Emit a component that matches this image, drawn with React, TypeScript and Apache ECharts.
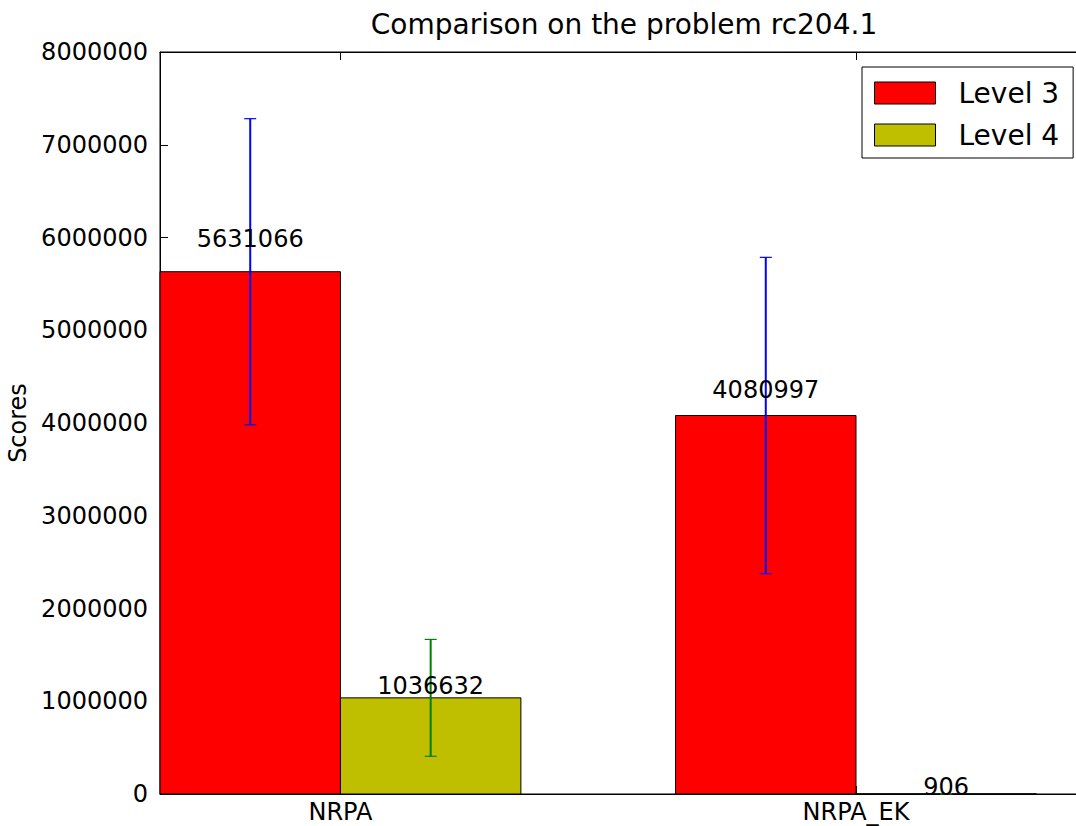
import React, { useEffect, useRef } from "react";
import * as echarts from "echarts";

const categories = ["NRPA", "NRPA_EK"];
const seriesNames = ["Level 3", "Level 4"];
const level3 = [5631066, 4080997];
const level4 = [1036632, 906];
const level3Err = [1650000, 1705000];
const level4Err = [630000, 500];
const seriesColors = ["#ff0000", "#bfbf00"];
const errColors = ["#0000ff", "#008000"];
const yTickStep = 1000000;
const yMax = 8000000;
const barWidthUnits = 0.35;
const xMax = 1.8;
const title = "Comparison on the problem rc204.1";

const FONT = "DejaVu Sans";

export default function App() {
  const ref = useRef<HTMLDivElement>(null);
  useEffect(() => {
    if (!ref.current) return;
    const chart = echarts.init(ref.current, null, { renderer: "svg" });
    const W = barWidthUnits;
    const valuesList = [level3, level4];
    const errList = [level3Err, level4Err];

    const barSeries = seriesNames.map((name, k) => ({
      type: "custom",
      name,
      xAxisIndex: 0,
      yAxisIndex: 0,
      itemStyle: { color: seriesColors[k], borderColor: "#000", borderWidth: 1 },
      data: categories.map((_, i) => [i + k * W, valuesList[k][i]]),
      renderItem: (params: any, api: any) => {
        const x = api.value(0);
        const v = api.value(1);
        const p0 = api.coord([x, v]);
        const p1 = api.coord([x + W, 0]);
        return {
          type: "rect",
          shape: { x: p0[0], y: p0[1], width: p1[0] - p0[0], height: p1[1] - p0[1] },
          style: { fill: seriesColors[k], stroke: "#000", lineWidth: 1 },
        };
      },
      z: 2,
    }));

    const errSeries = seriesNames.map((name, k) => ({
      type: "custom",
      name: name + " err",
      xAxisIndex: 0,
      yAxisIndex: 0,
      data: categories.map((_, i) => [i + k * W + W / 2, valuesList[k][i], errList[k][i]]),
      renderItem: (params: any, api: any) => {
        const x = api.value(0);
        const v = api.value(1);
        const e = api.value(2);
        const top = api.coord([x, v + e]);
        const bot = api.coord([x, v - e]);
        const cap = 6;
        const st = { stroke: errColors[k], lineWidth: 2 };
        const cs = { stroke: errColors[k], lineWidth: 1.2 };
        return {
          type: "group",
          children: [
            { type: "line", shape: { x1: top[0], y1: top[1], x2: bot[0], y2: bot[1] }, style: st },
            { type: "line", shape: { x1: top[0] - cap, y1: top[1], x2: top[0] + cap, y2: top[1] }, style: cs },
            { type: "line", shape: { x1: bot[0] - cap, y1: bot[1], x2: bot[0] + cap, y2: bot[1] }, style: cs },
          ],
        };
      },
      z: 3,
    }));

    const labelSeries = seriesNames.map((name, k) => ({
      type: "custom",
      name: name + " label",
      xAxisIndex: 0,
      yAxisIndex: 0,
      data: categories.map((_, i) => [i + k * W + W / 2, valuesList[k][i]]),
      renderItem: (params: any, api: any) => {
        const x = api.value(0);
        const v = api.value(1);
        const p = api.coord([x, 1.05 * v]);
        return {
          type: "text",
          x: p[0],
          y: p[1] + 5,
          style: {
            text: String(v),
            align: "center",
            verticalAlign: "bottom",
            fontFamily: FONT,
            fontSize: 24,
            fill: "#000",
          },
        };
      },
      z: 4,
    }));

    const tickPositions = categories.map((_, i) => i + W);

    chart.setOption({
      animation: false,
      backgroundColor: "#fff",
      graphic: [
        {
          type: "text",
          x: 624,
          y: 24,
          style: {
            text: title,
            align: "center",
            verticalAlign: "middle",
            fontFamily: FONT,
            fontSize: 28,
            fill: "#000",
          },
        },
      ],
      legend: {
        data: seriesNames.map((n, k) => ({
          name: n,
          itemStyle: { color: seriesColors[k], borderColor: "#000", borderWidth: 1 },
        })),
        orient: "vertical",
        left: 862,
        top: 67,
        icon: "rect",
        itemWidth: 61,
        itemHeight: 22,
        itemGap: 14,
        padding: [12, 14, 9, 12],
        borderColor: "#000",
        borderWidth: 1,
        borderRadius: 0,
        backgroundColor: "#fff",
        selectedMode: false,
        textStyle: { fontFamily: FONT, fontSize: 28, color: "#000", padding: [0, 0, 0, 18] },
      },
      grid: {
        left: 160,
        top: 52,
        right: -12,
        bottom: 32,
        containLabel: false,
        outerBoundsMode: "none",
        show: true,
        borderColor: "#000",
        borderWidth: 1,
        backgroundColor: "transparent",
      },
      xAxis: [
        {
          type: "value",
          position: "bottom",
          min: 0,
          max: xMax,
          axisLine: { show: true, lineStyle: { color: "#000", width: 1 } },
          axisTick: { show: true, inside: true, length: 8, customValues: tickPositions, lineStyle: { color: "#000" } },
          axisLabel: {
            show: true,
            customValues: tickPositions,
            formatter: (v: number) => categories[Math.round(v - W)] ?? "",
            fontFamily: FONT,
            fontSize: 24,
            color: "#000",
            margin: 6,
          },
          splitLine: { show: false },
        },
        {
          type: "value",
          position: "top",
          min: 0,
          max: xMax,
          axisLine: { show: true, lineStyle: { color: "#000", width: 1 } },
          axisTick: { show: true, inside: true, length: 8, customValues: tickPositions, lineStyle: { color: "#000" } },
          axisLabel: { show: false },
          splitLine: { show: false },
        },
      ],
      yAxis: [
        {
          type: "value",
          min: 0,
          max: yMax,
          interval: yTickStep,
          name: "Scores",
          nameLocation: "middle",
          nameGap: 115,
          nameTextStyle: { fontFamily: FONT, fontSize: 24, color: "#000" },
          axisLine: { show: true, lineStyle: { color: "#000", width: 1 } },
          axisTick: { show: true, inside: true, length: 8, lineStyle: { color: "#000" } },
          axisLabel: {
            fontFamily: FONT,
            fontSize: 24,
            color: "#000",
            margin: 12,
            formatter: (v: number) => String(v),
          },
          splitLine: { show: false },
        },
      ],
      series: [...barSeries, ...errSeries, ...labelSeries],
    });
    return () => chart.dispose();
  }, []);
  return (
    <div
      ref={ref}
      style={{ position: "absolute", left: 0, top: 0, width: 1076, height: 826, background: "#fff" }}
    />
  );
}
